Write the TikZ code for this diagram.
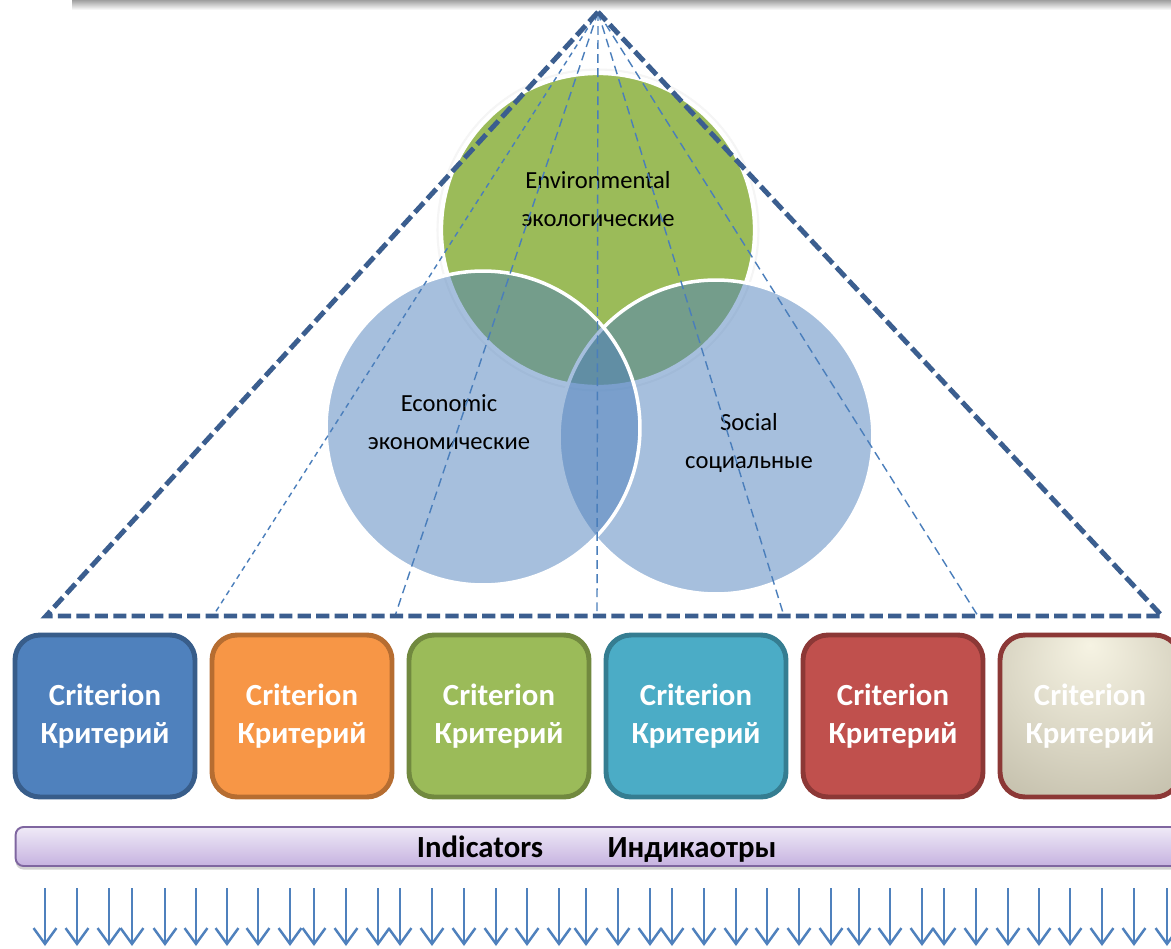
\documentclass[tikz,border=0pt]{standalone}
\usepackage{fontspec}
\setmainfont{Carlito}
\usepackage{tikz}
\usetikzlibrary{positioning,arrows}
\usetikzlibrary{arrows.meta}
\usetikzlibrary{shadows}

\definecolor{triblue}{HTML}{3B5E8F}
\definecolor{rayblue}{HTML}{4A7EBB}
\definecolor{envgreen}{HTML}{9BBB59}
\definecolor{vennblue}{HTML}{4F81BD}
\definecolor{critA}{HTML}{4F81BD}
\definecolor{critAline}{HTML}{385D8A}
\definecolor{critB}{HTML}{F79646}
\definecolor{critBline}{HTML}{B66D31}
\definecolor{critC}{HTML}{9BBB59}
\definecolor{critCline}{HTML}{71893F}
\definecolor{critD}{HTML}{4BACC6}
\definecolor{critDline}{HTML}{357D91}
\definecolor{critE}{HTML}{C0504D}
\definecolor{critEline}{HTML}{8C3836}
\definecolor{glowA}{HTML}{F6F3E3}
\definecolor{glowB}{HTML}{BDB8A4}
\definecolor{glowC}{HTML}{6E6A59}
\definecolor{barTop}{HTML}{EFEAF7}
\definecolor{barBot}{HTML}{C6B2E0}
\definecolor{barLine}{HTML}{7F66A0}

\pgfdeclareradialshading{critglow}{\pgfpoint{0bp}{22bp}}{color(0bp)=(glowA); color(22bp)=(glowA!55!glowB); color(48bp)=(glowB); color(75bp)=(glowC)}

\tikzset{
  venn/.style={circle, minimum size=6.28cm, draw=white, line width=2pt, inner sep=0pt},
  tri/.style={triblue, line width=2.8pt, dash pattern=on 7.5pt off 3pt},
  ray/.style={rayblue, line width=0.8pt, dash pattern=on 5pt off 3pt},
  lbl/.style={font=\fontsize{14}{21.5}\selectfont, align=center},
  crit/.style={rounded corners=0.5cm, minimum width=3.6cm, minimum height=3.24cm,
    line width=2.8pt, text=white, align=center,
    font=\fontsize{17.5}{21.5}\selectfont\bfseries},
  indbar/.style={rounded corners=4.5pt, minimum width=23.5cm, minimum height=0.78cm,
    draw=barLine, line width=1.1pt, top color=barTop, bottom color=barBot,
    drop shadow={shadow xshift=0pt, shadow yshift=-2pt, opacity=0.35}},
  bartxt/.style={font=\fontsize{17.5}{20}\selectfont\bfseries, anchor=base},
  ind/.style={vennblue, line width=1.4pt, -{Straight Barb[length=9pt,width=13pt]}}
}

\begin{document}
\begin{tikzpicture}[x=0.02cm, y=-0.02cm]
  \clip (0,0) rectangle (1171,948);
  \fill[white] (0,0) rectangle (1171,948);
  \shade[top color=gray!75, bottom color=white] (72,0) rectangle (1171,10);

  \node[venn, minimum size=6.42cm, draw=gray!8, line width=1.2pt] (envhalo) at (598,230) {};
  \node[venn, fill=envgreen, line width=2.4pt] (env) at (598,230) {};
  \node[venn, fill=vennblue, fill opacity=0.5] (soc) at (716,437) {};
  \node[venn, fill=vennblue, fill opacity=0.5] (eco) at (483,428) {};

  \node[lbl] (envtxt) at (598,199) {Environmental\\экологические};
  \node[lbl] (ecotxt) at (449,422) {Economic\\экономические};
  \node[lbl] (soctxt) at (749,443) {Social\\социальные};

  \coordinate (apex) at (598,12);
  \coordinate (bl) at (46,616);
  \coordinate (br) at (1162,616);
  \coordinate (r1) at (213,616);
  \coordinate (r2) at (395,616);
  \coordinate (r3) at (597,616);
  \coordinate (r4) at (784,616);
  \coordinate (r5) at (978,616);
  \draw[ray, dash pattern=on 3pt off 2.5pt] (apex) -- (r1);
  \foreach \r in {r2,r3,r4,r5}
    \draw[ray] (apex) -- (\r);
  \draw[tri] (apex) -- (bl) -- (br) -- cycle;

  \foreach \c [count=\i] in {A,B,C,D,E}
    \node[crit, fill=crit\c, draw=crit\c line] (crit\i) at (105+197*\i-197,716) {Criterion\\Критерий};
  \node[crit, shading=critglow, draw=critEline] (crit6) at (1090,716) {Criterion\\Критерий};

  \node[indbar] (ind) at (603,846.5) {};
  \node[bartxt] (indEn) at (480,857) {Indicators};
  \node[bartxt] (indRu) at (692,857) {Индикаотры};

  \foreach \x [count=\i] in {45,77,109,132,165,196,227,258,290,314,346,378,400,432,464,496,527,559,586,618,650,672,704,736,767,799,831,859,890,922,944,976,1008,1039,1070,1102,1134,1167} {
    \coordinate (s\i) at (\x,888);
    \coordinate (e\i) at (\x,946);
    \draw[ind] (s\i) -- (e\i);
  }
\end{tikzpicture}
\end{document}
